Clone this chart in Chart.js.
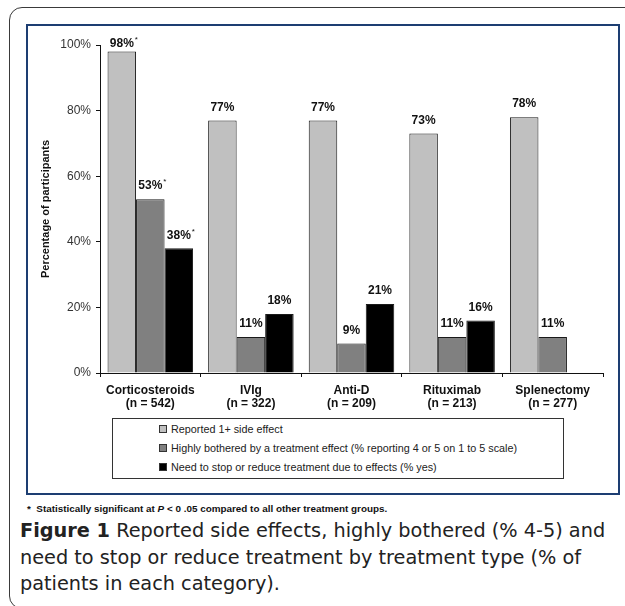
<!DOCTYPE html>
<html>
<head>
<meta charset="utf-8">
<script src="https://cdn.jsdelivr.net/npm/chart.js@4.4.0/dist/chart.umd.min.js"></script>
<style>
    html, body { margin: 0; padding: 0; background: #fff; overflow: hidden; }
    body { width: 625px; height: 606px; position: relative; font-family: "Liberation Sans", Arial, sans-serif; }
    #frame {
        position: absolute; left: 9px; top: 7px; width: 640px; height: 602px;
        border: 1.5px solid #3a3a3a; border-radius: 13px; box-sizing: border-box;
    }
    #panel {
        position: absolute; left: 26px; top: 24px; width: 594px; height: 471px;
        border: 2px solid #1d3e72; box-sizing: border-box;
    }
    #chartWrap { position: absolute; left: 28px; top: 26px; width: 590px; height: 390px; }
    #legendBox {
        position: absolute; left: 112px; top: 418px; width: 452px; height: 61px;
        border: 1px solid #333; box-sizing: border-box; background: #fff;
    }
    .legend-row {
        position: absolute; left: 46px; height: 14px; line-height: 14px;
        font-size: 10.8px; color: #222; white-space: nowrap;
    }
    .legend-row i {
        display: inline-block; width: 6px; height: 6px; border: 1px solid #333;
        margin-right: 4px; vertical-align: 0px;
    }
    #footnote {
        position: absolute; left: 27px; top: 503px; font-size: 9.9px; font-weight: bold;
        color: #111; white-space: nowrap;
    }
    #caption {
        position: absolute; left: 20px; top: 518px; font-family: "DejaVu Sans", sans-serif;
        font-size: 19.3px; line-height: 26.5px; color: #222; white-space: nowrap;
    }
</style>
</head>
<body>
<div id="frame"></div>
<div id="panel"></div>
<div id="chartWrap"><canvas id="sideEffectsChart" width="590" height="390"></canvas></div>
<div id="legendBox"></div>
<div id="footnote">*&nbsp; Statistically significant at <i>P</i> &lt; 0 .05 compared to all other treatment groups.</div>
<div id="caption"><b>Figure 1</b> Reported side effects, highly bothered (% 4-5) and<br>need to stop or reduce treatment by treatment type (% of<br>patients in each category).</div>

<script>
// ─── Data ─────────────────────────────────────────────────────────────────

const treatments = ['Corticosteroids', 'IVIg', 'Anti-D', 'Rituximab', 'Splenectomy'];
const sampleSizes = ['(n = 542)', '(n = 322)', '(n = 209)', '(n = 213)', '(n = 277)'];

const seriesNames = [
    'Reported 1+ side effect',
    'Highly bothered by a treatment effect (% reporting 4 or 5 on 1 to 5 scale)',
    'Need to stop or reduce treatment due to effects (% yes)'
];
const seriesColors = ['#c0c0c0', '#808080', '#000000'];

const reportedSideEffect = [98, 77, 77, 73, 78];
const highlyBothered = [53, 11, 9, 11, 11];
const stopOrReduce = [38, 18, 21, 16, null];

// significant at P < .05 (asterisk next to the label)
const sigReported = [true, false, false, false, false];
const sigBothered = [true, false, false, false, false];
const sigStop = [true, false, false, false, false];

const yTicks = [0, 20, 40, 60, 80, 100];

// ─── Value labels above bars ──────────────────────────────────────────────

const sigFlags = [sigReported, sigBothered, sigStop];

const barLabels = {
    id: 'barLabels',
    afterDatasetsDraw(chart) {
        const ctx = chart.ctx;
        const top = chart.chartArea.top;
        ctx.save();
        chart.data.datasets.forEach((ds, di) => {
            chart.getDatasetMeta(di).data.forEach((bar, i) => {
                const v = ds.data[i];
                if (v === null) return;
                const text = v + '%';
                const y = Math.max(bar.y - 13, top - 1);
                ctx.font = 'bold 12px "Liberation Sans", Arial, sans-serif';
                ctx.fillStyle = '#111';
                ctx.textAlign = 'center';
                ctx.textBaseline = 'middle';
                ctx.fillText(text, bar.x, y);
                if (sigFlags[di][i]) {
                    const w = ctx.measureText(text).width;
                    ctx.font = '8px "Liberation Sans", Arial, sans-serif';
                    ctx.textAlign = 'left';
                    ctx.fillText('*', bar.x + w / 2 + 1, y - 4);
                }
            });
        });
        ctx.restore();
    }
};

// ─── Chart ────────────────────────────────────────────────────────────────

const ctx = document.getElementById('sideEffectsChart').getContext('2d');

new Chart(ctx, {
    type: 'bar',
    data: {
        labels: treatments.map((t, i) => [t, sampleSizes[i]]),
        datasets: [
            { label: seriesNames[0], data: reportedSideEffect },
            { label: seriesNames[1], data: highlyBothered },
            { label: seriesNames[2], data: stopOrReduce }
        ].map((ds, i) => ({
            ...ds,
            backgroundColor: seriesColors[i],
            borderColor: '#1a1a1a',
            borderWidth: 1,
            borderSkipped: 'bottom',
            categoryPercentage: 0.85,
            barPercentage: 1.0
        }))
    },
    options: {
        responsive: false,
        animation: false,
        devicePixelRatio: 1,
        layout: { padding: { top: 19, right: 15, left: 0, bottom: 0 } },
        plugins: {
            legend: { display: false },
            tooltip: { enabled: false }
        },
        scales: {
            x: {
                afterFit: (scale) => { scale.height = 43; },
                grid: {
                    offset: true,
                    drawOnChartArea: false,
                    tickLength: 4,
                    color: '#111'
                },
                border: { color: '#111', width: 1 },
                ticks: {
                    color: '#111',
                    padding: 7,
                    maxRotation: 0,
                    font: { family: '"Liberation Sans", Arial, sans-serif', size: 12, weight: 'bold', lineHeight: 1.08 }
                }
            },
            y: {
                min: 0,
                max: 100,
                afterFit: (scale) => { scale.width = 72; },
                afterBuildTicks: (scale) => { scale.ticks = yTicks.map(v => ({ value: v })); },
                grid: {
                    drawOnChartArea: false,
                    tickLength: 4,
                    color: '#111'
                },
                border: { color: '#111', width: 1 },
                ticks: {
                    color: '#333',
                    padding: 5,
                    font: { family: '"Liberation Sans", Arial, sans-serif', size: 12 },
                    callback: (val) => val + '%'
                },
                title: {
                    display: true,
                    text: 'Percentage of participants',
                    color: '#111',
                    padding: { top: 11, bottom: 0 },
                    font: { family: '"Liberation Sans", Arial, sans-serif', size: 11, weight: 'bold' }
                }
            }
        }
    },
    plugins: [barLabels]
});

// ─── Legend box ───────────────────────────────────────────────────────────

const legendBox = document.getElementById('legendBox');
const rowTops = [3, 22, 41];
seriesNames.forEach((name, i) => {
    const row = document.createElement('div');
    row.className = 'legend-row';
    row.style.top = rowTops[i] + 'px';
    const swatch = document.createElement('i');
    swatch.style.background = seriesColors[i];
    row.appendChild(swatch);
    row.appendChild(document.createTextNode(name));
    legendBox.appendChild(row);
});
</script>
</body>
</html>
